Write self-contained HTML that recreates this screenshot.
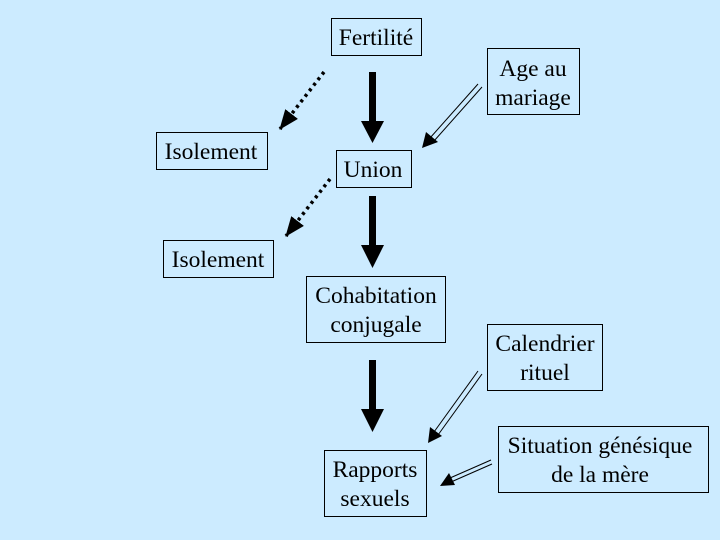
<!DOCTYPE html>
<html><head><meta charset="utf-8"><style>
html,body{margin:0;padding:0;background:#CCEBFF;}
svg{display:block}
text{font-family:"Liberation Serif",serif;font-size:23.5px;fill:#000;text-anchor:middle}
rect{fill:none;stroke:#000;stroke-width:1}
</style></head><body>
<svg width="720" height="540" viewBox="0 0 720 540">
<defs>
<marker id="hs" markerWidth="20" markerHeight="20" refX="19" refY="10" orient="auto" markerUnits="userSpaceOnUse" viewBox="0 0 20 20"><path d="M0,2 L20,10 L0,18z" fill="#000"/></marker>
</defs>
<rect x="331.5" y="18.5" width="90" height="37"/><text x="376" y="45">Fertilité</text>
<rect x="487.5" y="48.5" width="92" height="66"/><text x="533" y="76">Age au</text><text x="533" y="105">mariage</text>
<rect x="156.5" y="132.5" width="111" height="37"/><text x="211" y="159">Isolement</text>
<rect x="336.5" y="150.5" width="75" height="37"/><text x="373" y="177">Union</text>
<rect x="163.5" y="240.5" width="110" height="37"/><text x="218" y="267">Isolement</text>
<rect x="306.5" y="276.5" width="139" height="66"/><text x="376" y="303">Cohabitation</text><text x="376" y="332">conjugale</text>
<rect x="487.5" y="324.5" width="115" height="66"/><text x="545" y="351">Calendrier</text><text x="545" y="380">rituel</text>
<rect x="498.5" y="426.5" width="210" height="66"/><text x="600" y="453">Situation génésique</text><text x="600" y="482">de la mère</text>
<rect x="324.5" y="450.5" width="102" height="66"/><text x="375" y="477">Rapports</text><text x="375" y="506">sexuels</text>
<g fill="#000">
<rect x="369" y="72" width="7" height="50" style="fill:#000;stroke:none"/><path d="M361,121 L384,121 L372.5,143z"/>
<rect x="369" y="196" width="7" height="50" style="fill:#000;stroke:none"/><path d="M361,245 L384,245 L372.5,268z"/>
<rect x="369" y="360" width="7" height="50" style="fill:#000;stroke:none"/><path d="M361,409 L384,409 L372.5,432z"/>
</g>
<line x1="324" y1="72" x2="280" y2="129" stroke="#000" stroke-width="3.5" stroke-dasharray="3,4" marker-end="url(#hs)"/>
<line x1="330" y1="179" x2="286" y2="236" stroke="#000" stroke-width="3.5" stroke-dasharray="3,4" marker-end="url(#hs)"/>
<g stroke="#000" stroke-width="1">
<line x1="478" y1="84" x2="430" y2="138"/><line x1="482" y1="87" x2="434" y2="141"/>
<line x1="478" y1="371" x2="434" y2="432"/><line x1="482" y1="374" x2="438" y2="435"/>
<line x1="491" y1="460" x2="450" y2="478"/><line x1="492" y1="464" x2="451" y2="482"/>
</g>
<path d="M422,148 L426,132 L438,142z" fill="#000"/>
<path d="M428,443 L430,427 L442,436z" fill="#000"/>
<path d="M440,486 L449,473 L455,485z" fill="#000"/>
</svg>
</body></html>
